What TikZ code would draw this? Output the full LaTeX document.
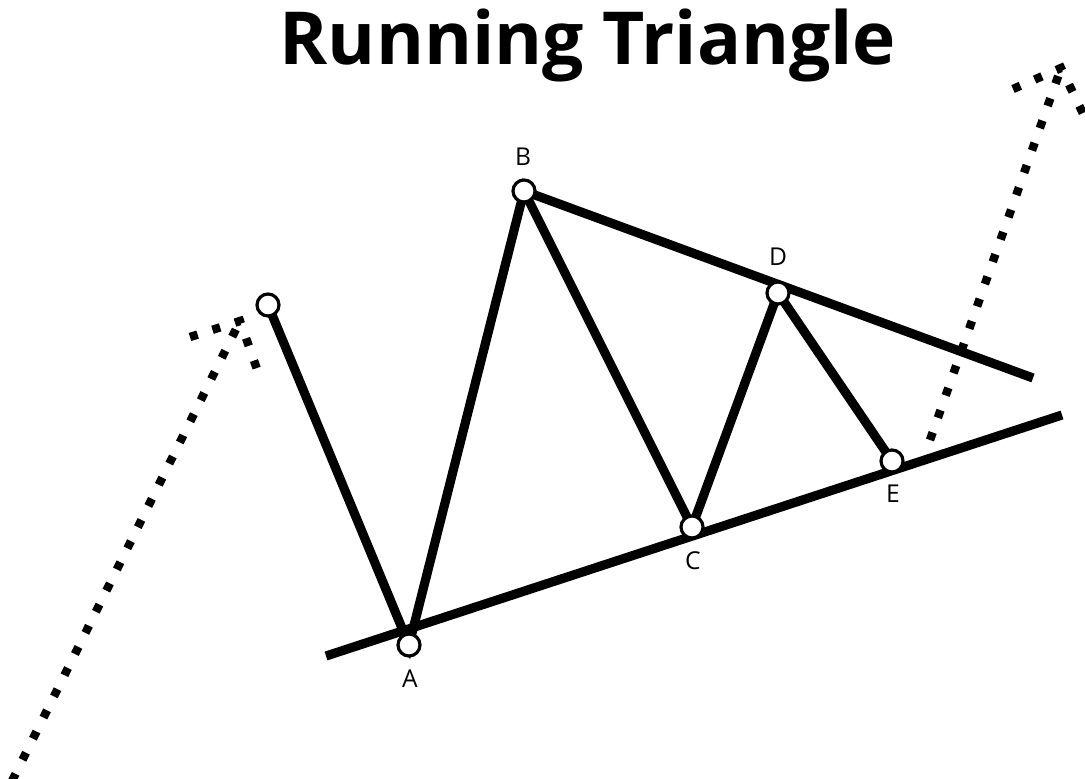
\documentclass[tikz,border=0pt]{standalone}
\usepackage{fontspec}
\setmainfont{Open Sans}
\usepackage{tikz}
\usetikzlibrary{backgrounds}

\begin{document}
\begin{tikzpicture}[
  x=0.01cm, y=-0.01cm,
  pt/.style={circle, draw, fill=white, line width=0.9pt, minimum size=0.22cm, inner sep=0pt},
  lbl/.style={font=\fontsize{7}{8}\selectfont, inner sep=0pt},
  wave/.style={line width=2.6pt, line join=miter},
  dots/.style={line width=2.4pt, dash pattern=on 0.08cm off 0.156cm}
]
  \useasboundingbox (0,0) rectangle (1085,779);

  \node[font=\fontsize{20.8}{24}\bfseries\selectfont] (title) at (588,46) {Running Triangle};

  % wave points
  \node[pt] (p0) at (268,305) {};
  \node[pt] (pA) at (409,645) {};
  \node[pt] (pB) at (524,191) {};
  \node[pt] (pC) at (692,527) {};
  \node[pt] (pD) at (778,293) {};
  \node[pt] (pE) at (892,461) {};

  \node[lbl] (lA) at (410,679) {A};
  \node[lbl] (lB) at (523,157) {B};
  \node[lbl] (lC) at (693,561) {C};
  \node[lbl] (lD) at (778,257) {D};
  \node[lbl] (lE) at (893,494) {E};

  % trend line ends
  \coordinate (u2) at (1033,378);
  \coordinate (l1) at (326,656);
  \coordinate (l2) at (1062,415);

  % dotted legs
  \coordinate (q0) at (12,781);
  \coordinate (q1) at (240,321);
  \coordinate (q2) at (190,337);
  \coordinate (q3) at (258,372);
  \coordinate (r0) at (930,440);
  \coordinate (r1) at (1061,68);
  \coordinate (r2) at (1013,89);
  \coordinate (r3) at (1090,128);

  \begin{pgfonlayer}{background}
    \draw[wave] (p0.center) -- (pA.center) -- (pB.center) -- (pC.center) -- (pD.center) -- (pE.center);
    \draw[wave] (pB.center) -- (u2);
    \draw[wave] (l1) -- (l2);
    \draw[dots] (q0) -- (q1);
    \draw[dots] (q2) -- (q1) -- (q3);
    \draw[dots] (r0) -- (r1);
    \draw[dots] (r2) -- (r1) -- (r3);
  \end{pgfonlayer}
\end{tikzpicture}
\end{document}
